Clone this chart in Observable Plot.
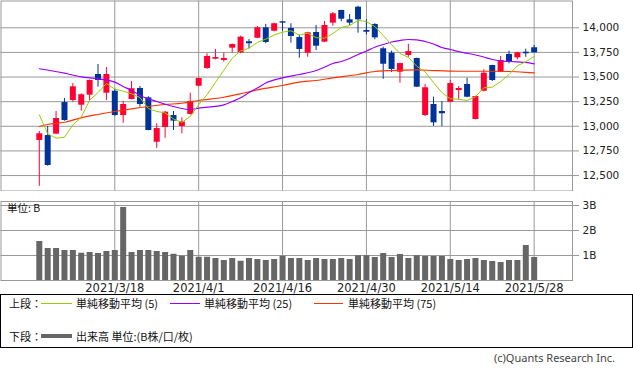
<!DOCTYPE html>
<html><head><meta charset="utf-8">
<script src="https://cdn.jsdelivr.net/npm/d3@7"></script>
<script src="https://cdn.jsdelivr.net/npm/@observablehq/plot@0.6"></script>
<style>
body{margin:0;background:#fff;}
#wrap{position:relative;width:633px;height:372px;overflow:hidden;background:#fff;font-family:"Noto Sans CJK JP","Noto Sans",sans-serif;}
#topPanel,#volPanel{position:absolute;left:0;}
#topPanel{top:0;} #volPanel{top:191px;}
#legend{position:absolute;left:0;top:294px;width:631px;height:52px;border:1px solid #000;font-size:11px;color:#111;}
#copy{position:absolute;right:18px;top:350px;font-size:11px;color:#444;font-family:"Noto Sans","Noto Sans CJK JP",sans-serif;}
</style></head><body>
<div id="wrap">
<div id="topPanel"></div>
<div id="volPanel"></div>
<div id="legend"></div>
<div id="copy">(c)Quants Research Inc.</div>
</div>
<script>
const dates = ["2021/3/5","2021/3/8","2021/3/9","2021/3/10","2021/3/11","2021/3/12","2021/3/15","2021/3/16","2021/3/17","2021/3/18",
"2021/3/19","2021/3/22","2021/3/23","2021/3/24","2021/3/25","2021/3/26","2021/3/29","2021/3/30","2021/3/31","2021/4/1",
"2021/4/5","2021/4/6","2021/4/7","2021/4/8","2021/4/9","2021/4/12","2021/4/13","2021/4/14","2021/4/15","2021/4/16",
"2021/4/19","2021/4/20","2021/4/21","2021/4/22","2021/4/23","2021/4/26","2021/4/27","2021/4/28","2021/4/29","2021/4/30",
"2021/5/3","2021/5/4","2021/5/5","2021/5/6","2021/5/7","2021/5/10","2021/5/11","2021/5/12","2021/5/13","2021/5/14",
"2021/5/17","2021/5/18","2021/5/19","2021/5/20","2021/5/21","2021/5/24","2021/5/25","2021/5/26","2021/5/27","2021/5/28"];
const opens = [12856,12906,12920,13241,13262,13214,13316,13526,13336,13356,
13109,13272,13384,13289,12838,12988,13109,12998,13120,13407,
13587,13681,13668,13793,13746,13858,13894,14000,13965,14061,
13993,13901,13742,13952,13854,14047,14176,14081,14209,13973,
14034,13787,13742,13549,13719,13688,13109,13221,13150,13244,
13363,13424,13069,13356,13617,13549,13729,13695,13752,13797];
const highs = [12947,12998,13150,13282,13434,13330,13470,13627,13597,13376,
13252,13455,13404,13300,13025,13150,13150,13086,13336,13490,
13736,13780,13742,13835,13915,13881,14013,14034,14047,14063,
14041,13925,13955,14023,14064,14155,14178,14135,14219,14081,
14041,13803,13762,13640,13833,13692,13424,13295,13252,13465,
13404,13488,13305,13574,13620,13709,13762,13750,13783,13820];
const lows = [12391,12595,12915,13052,13244,13153,13262,13397,13262,13102,
13031,13268,13194,12955,12777,12879,12957,12924,13115,13400,
13577,13675,13651,13746,13736,13787,13890,13838,13960,13965,
13844,13691,13701,13769,13850,14016,14061,14023,13945,13929,
13878,13478,13546,13437,13701,13395,13099,12998,12998,13240,
13269,13290,13065,13350,13455,13545,13634,13675,13701,13745];
const closes = [12924,12602,13079,13059,13401,13320,13465,13465,13526,13109,
13221,13381,13221,12957,12977,13143,13052,13045,13252,13485,
13709,13698,13688,13830,13905,13838,14000,13851,14041,14047,
13912,13780,13949,13813,14023,14142,14087,14047,14081,13955,
13898,13630,13577,13637,13759,13397,13391,13035,13127,13434,
13384,13295,13302,13539,13465,13668,13658,13746,13736,13746];
const volumes = [1.56,1.28,1.28,1.2,1.2,1.09,1.12,1.08,1.16,1.2,
2.92,1.12,1.2,1.2,1.16,1.12,1.05,0.97,1.2,0.93,
0.93,0.88,0.8,0.88,0.77,0.88,0.84,0.8,0.84,0.97,
0.88,0.88,0.8,0.88,0.84,0.84,0.88,0.84,0.99,0.99,
0.92,1.08,0.92,1.04,0.88,0.99,0.96,0.96,0.96,0.84,
0.8,0.84,0.88,0.8,0.76,0.72,0.8,0.8,1.4,0.92];
const ma5 = [13117,12924,12879,12889,13013,13092,13265,13342,13435,13377,
13357,13330,13292,13180,13151,13136,13075,13040,13100,13220,
13320,13445,13570,13690,13766,13792,13852,13885,13927,13955,
13970,13926,13946,13900,13895,13941,14003,14022,14076,14062,
14014,13922,13828,13739,13700,13610,13552,13444,13342,13280,
13274,13262,13300,13391,13397,13454,13526,13615,13655,13711];
const ma25Dates = ["2021/3/5","2021/3/10","2021/3/12","2021/3/16","2021/3/18","2021/3/19","2021/3/22","2021/3/23","2021/3/25","2021/3/29",
"2021/3/31","2021/4/1","2021/4/7","2021/4/8","2021/4/9","2021/4/12","2021/4/13","2021/4/14","2021/4/16","2021/4/20",
"2021/4/22","2021/4/23","2021/4/26","2021/4/27","2021/4/28","2021/4/29","2021/4/30","2021/5/3","2021/5/4","2021/5/5",
"2021/5/6","2021/5/7","2021/5/10","2021/5/11","2021/5/12","2021/5/13","2021/5/14","2021/5/17","2021/5/18","2021/5/19",
"2021/5/20","2021/5/21","2021/5/24","2021/5/25","2021/5/26","2021/5/27","2021/5/28"];
const ma25Values = [13584,13539,13502,13482,13448,13404,13363,13313,13252,13201,
13170,13184,13218,13252,13289,13343,13389,13439,13492,13526,
13566,13600,13637,13658,13688,13729,13764,13803,13830,13856,
13871,13881,13878,13861,13836,13800,13780,13759,13742,13724,
13703,13678,13663,13658,13653,13648,13634];
const ma75Dates = ["2021/3/5","2021/3/8","2021/3/10","2021/3/12","2021/3/16","2021/3/18","2021/3/22","2021/3/24","2021/3/26","2021/3/30",
"2021/4/1","2021/4/7","2021/4/9","2021/4/13","2021/4/16","2021/4/20","2021/4/22","2021/4/26","2021/4/29","2021/5/3",
"2021/5/5","2021/5/10","2021/5/12","2021/5/17","2021/5/21","2021/5/25","2021/5/27","2021/5/28"];
const ma75Values = [12998,13018,13041,13086,13120,13150,13177,13201,13221,13234,
13262,13295,13330,13370,13414,13448,13465,13492,13526,13556,
13566,13573,13566,13559,13559,13556,13548,13543];
const priceTicks = [12500,12750,13000,13250,13500,13750,14000];
const volumeTicks = [1,2,3];
const dateTicks = ["2021/3/18","2021/4/1","2021/4/16","2021/4/30","2021/5/14","2021/5/28"];

const UP = "#ff0033", DOWN = "#003399", GRID = "#999999";
const rows = dates.map((d,i)=>({i, date:d, open:opens[i], high:highs[i], low:lows[i], close:closes[i], vol:volumes[i], ma5:ma5[i]}));
const idx = d => dates.indexOf(d);
const ma25Rows = ma25Dates.map((d,k)=>({i:idx(d), v:ma25Values[k]}));
const ma75Rows = ma75Dates.map((d,k)=>({i:idx(d), v:ma75Values[k]}));
const xTicks = dateTicks.map(idx);
const col = d => d.close >= d.open ? UP : DOWN;
const xScale = {type:"linear", domain:[-4.566, 63.57], axis:null};

const priceChart = Plot.plot({
  width:633, height:191, marginLeft:0.5, marginRight:61, marginTop:0.5, marginBottom:0.5,
  x:xScale,
  y:{domain:[12343,14272], axis:null},
  style:{fontFamily:"DejaVu Sans", fontSize:"10.5px", color:"#222", background:"#fff"},
  marks:[
    Plot.gridY(priceTicks,{stroke:GRID, strokeOpacity:1}),
    Plot.gridX(xTicks,{stroke:GRID, strokeOpacity:1}),
    Plot.frame({stroke:GRID}),
    Plot.axisY(priceTicks,{anchor:"right", label:null, tickSize:6, tickPadding:4, stroke:GRID, fill:"#222", tickFormat:d3.format(",")}),
    Plot.ruleX(rows,{x:"i", y1:"low", y2:"high", stroke:col, strokeWidth:1}),
    Plot.ruleX(rows,{x:"i", y1:"open", y2:"close", stroke:col, strokeWidth:6}),
    Plot.line(ma75Rows,{x:"i", y:"v", stroke:"#ff3300", strokeWidth:1.2, curve:"monotone-x"}),
    Plot.line(ma25Rows,{x:"i", y:"v", stroke:"#9900ff", strokeWidth:1.2, curve:"monotone-x"}),
    Plot.line(rows,{x:"i", y:"ma5", stroke:"#99cc00", strokeWidth:1})
  ]
});
document.getElementById("topPanel").appendChild(priceChart);

const volChart = Plot.plot({
  width:633, height:108, marginLeft:0.5, marginRight:61, marginTop:10, marginBottom:19,
  x:xScale,
  y:{domain:[0,3.16], axis:null},
  style:{fontFamily:"DejaVu Sans", fontSize:"10.5px", color:"#222", background:"#fff", overflow:"visible"},
  marks:[
    Plot.gridY(volumeTicks,{stroke:GRID, strokeOpacity:1}),
    Plot.gridX(xTicks,{stroke:GRID, strokeOpacity:1}),
    Plot.ruleX(rows,{x:"i", y1:0, y2:"vol", stroke:"#666666", strokeWidth:6}),
    Plot.frame({stroke:GRID}),
    Plot.axisY(volumeTicks,{anchor:"right", label:null, tickSize:6, tickPadding:4, stroke:GRID, fill:"#222", tickFormat:d=>d+"B"}),
    Plot.axisX(xTicks,{anchor:"bottom", label:null, tickSize:0, tickPadding:3, fill:"#222", fontSize:11.5, tickFormat:i=>dates[i]}),
    Plot.text(["単位: B"],{frameAnchor:"top-left", dx:6, dy:7, textAnchor:"start", lineAnchor:"middle", fontSize:10.5, fill:"#111", fontFamily:"Noto Sans CJK JP"})
  ]
});
document.getElementById("volPanel").appendChild(volChart);

// legend
const legendItems = [
  {row:0, label:"上段：", x:8},
  {row:0, line:"#99cc00", x1:40, x2:71, w:1},
  {row:0, label:"単純移動平均 (5)", x:75},
  {row:0, line:"#9900ff", x1:169, x2:199, w:1},
  {row:0, label:"単純移動平均 (25)", x:203},
  {row:0, line:"#ff3300", x1:313, x2:342, w:1},
  {row:0, label:"単純移動平均 (75)", x:347},
  {row:1, label:"下段：", x:8},
  {row:1, line:"#666666", x1:40, x2:71, w:4},
  {row:1, label:"出来高 単位:(B株/口/枚)", x:75}
];
const lg = document.getElementById("legend");
const rowY = [8, 41];
for (const it of legendItems) {
  const el = document.createElement("div");
  if (it.label) {
    el.textContent = it.label;
    el.style.cssText = `position:absolute;left:${it.x}px;top:${rowY[it.row]-8}px;line-height:16px;white-space:nowrap;`;
  } else {
    el.style.cssText = `position:absolute;left:${it.x1}px;width:${it.x2-it.x1}px;top:${rowY[it.row]-it.w/2}px;height:${it.w}px;background:${it.line};`;
  }
  lg.appendChild(el);
}
</script>
</body></html>
